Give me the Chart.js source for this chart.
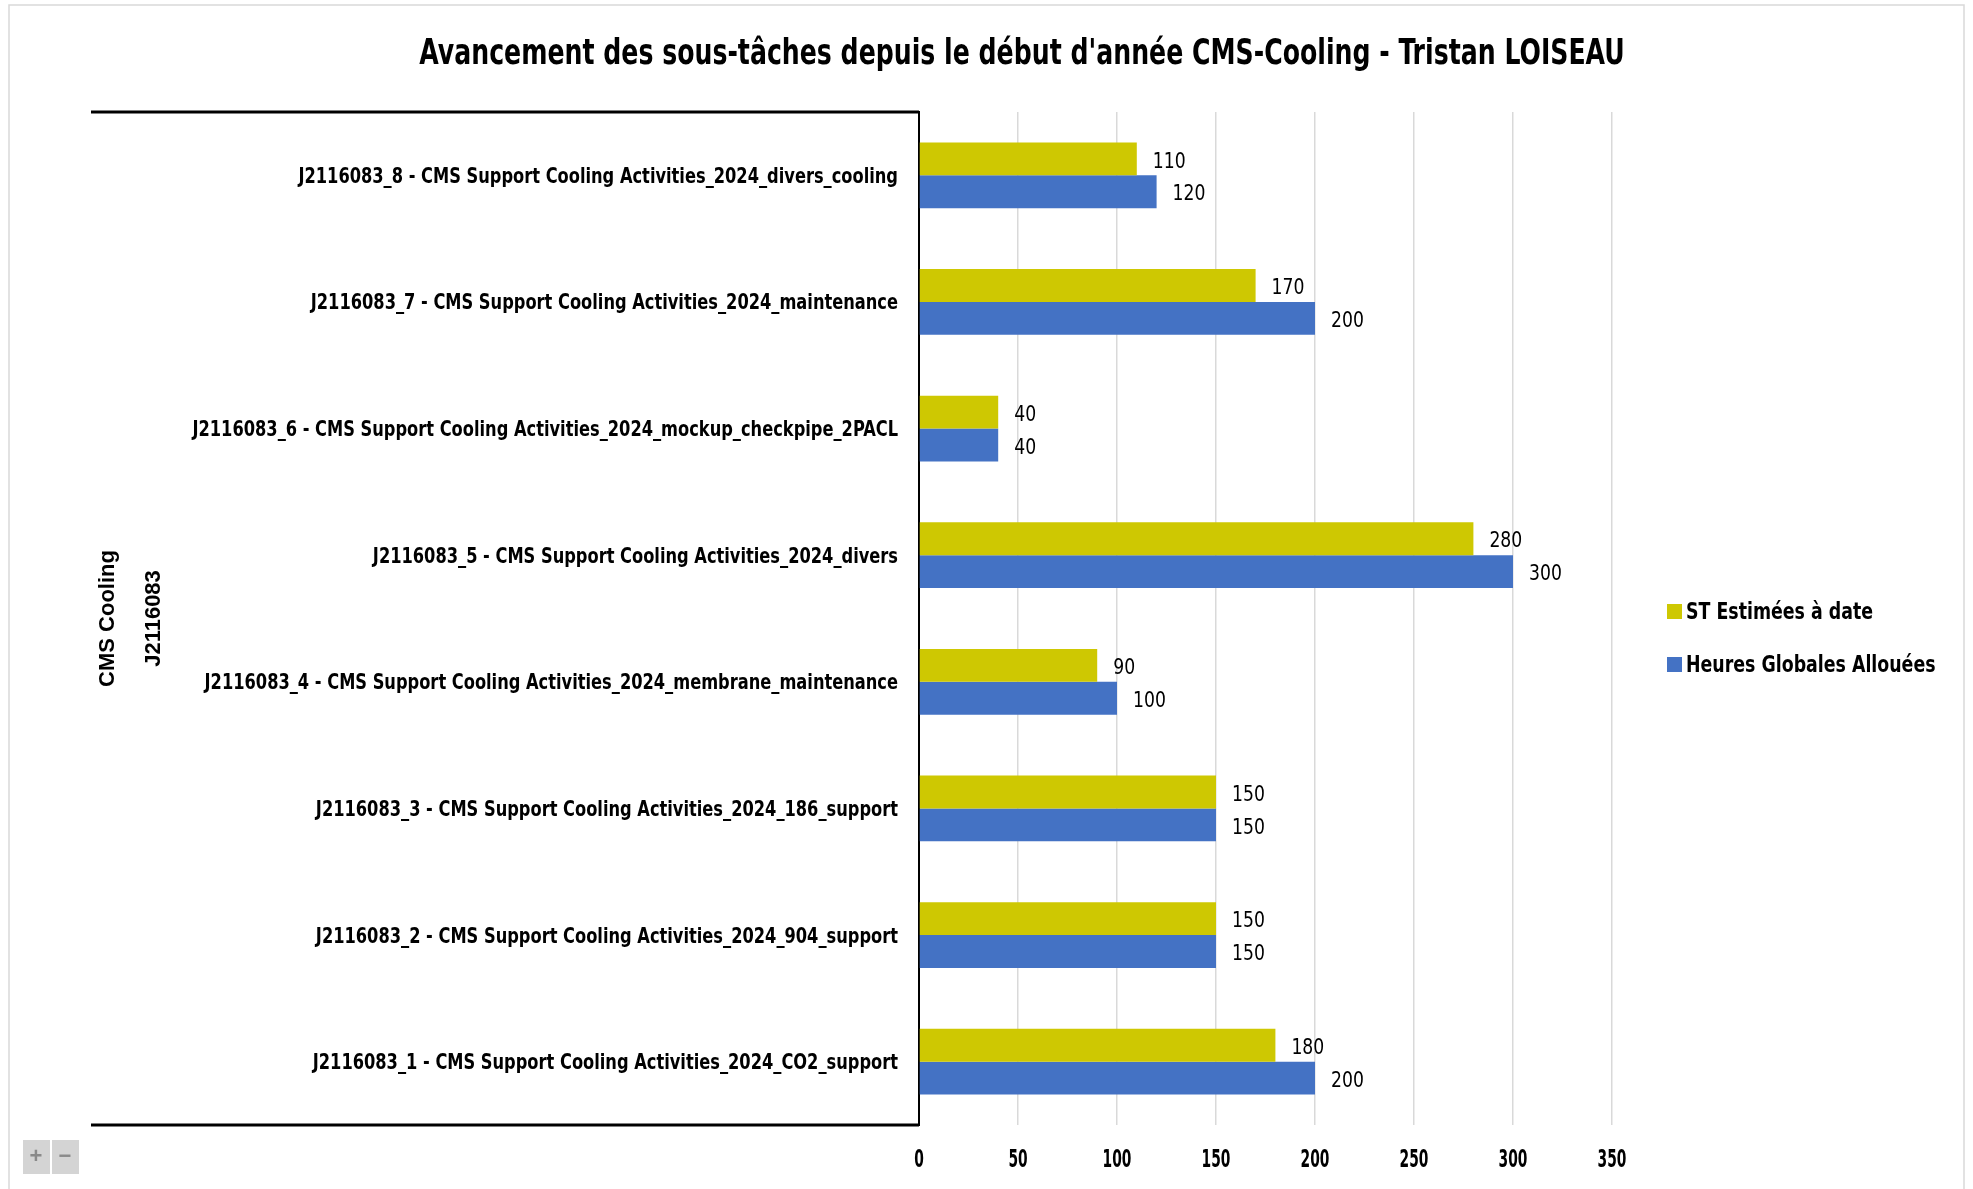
<!DOCTYPE html>
<html>
<head>
<meta charset="utf-8">
<script src="https://cdn.jsdelivr.net/npm/chart.js@4/dist/chart.umd.min.js"></script>
<style>
  html, body { margin: 0; padding: 0; background: #fff; }
  canvas { display: block; }
</style>
</head>
<body>
<canvas id="chart" width="1973" height="1189"></canvas>
<script>
// data
const categories = [
  "J2116083_8 - CMS Support Cooling Activities_2024_divers_cooling",
  "J2116083_7 - CMS Support Cooling Activities_2024_maintenance",
  "J2116083_6 - CMS Support Cooling Activities_2024_mockup_checkpipe_2PACL",
  "J2116083_5 - CMS Support Cooling Activities_2024_divers",
  "J2116083_4 - CMS Support Cooling Activities_2024_membrane_maintenance",
  "J2116083_3 - CMS Support Cooling Activities_2024_186_support",
  "J2116083_2 - CMS Support Cooling Activities_2024_904_support",
  "J2116083_1 - CMS Support Cooling Activities_2024_CO2_support",
];
const stEstimees = [110, 170, 40, 280, 90, 150, 150, 180];
const heuresAllouees = [120, 200, 40, 300, 100, 150, 150, 200];
const groupLabels = ["CMS Cooling", "J2116083"];
const chartTitle = "Avancement des sous-tâches depuis le début d'année CMS-Cooling - Tristan LOISEAU";

const cond = "'DejaVu Sans Condensed', 'Liberation Sans', sans-serif";
const yellow = "#CEC802";
const blue = "#4472C4";

// text squeezed horizontally, to get the narrow Calibri look
function drawText(ctx, text, x, y, font, sx, align) {
  ctx.save();
  ctx.translate(x, y);
  ctx.scale(sx, 1);
  ctx.font = font;
  ctx.fillStyle = "#000";
  ctx.textAlign = align;
  ctx.textBaseline = "middle";
  ctx.fillText(text, 0, 0);
  ctx.restore();
}

// value labels at the end of each bar
const valueLabels = {
  id: "valueLabels",
  afterDatasetsDraw(chart) {
    const ctx = chart.ctx;
    chart.data.datasets.forEach((ds, i) => {
      chart.getDatasetMeta(i).data.forEach((bar, j) => {
        drawText(ctx, String(ds.data[j]), bar.x + 16, bar.y + 3, "22px " + cond, 0.87, "left");
      });
    });
  },
};

// tick labels of both axes, placed with the scales
const axisLabels = {
  id: "axisLabels",
  afterDraw(chart) {
    const ctx = chart.ctx;
    const xs = chart.scales.x;
    const ys = chart.scales.y;
    ys.ticks.forEach((t, i) => {
      drawText(ctx, ys.getLabelForValue(t.value), chart.chartArea.left - 21,
        ys.getPixelForTick(i) + 2, "bold 21px " + cond, 0.86, "right");
    });
    xs.ticks.forEach((t, i) => {
      drawText(ctx, String(t.value), xs.getPixelForTick(i), 1161,
        "bold 24px " + cond, 0.64, "center");
    });
  },
};

// title, outer frame, pivot group labels, legend, field buttons
const decorations = {
  id: "decorations",
  afterDraw(chart) {
    const ctx = chart.ctx;
    const area = chart.chartArea;
    ctx.save();

    // outer frame
    ctx.strokeStyle = "#d9d9d9";
    ctx.lineWidth = 1.5;
    ctx.beginPath();
    ctx.moveTo(9, 1189);
    ctx.lineTo(9, 5);
    ctx.lineTo(1964, 5);
    ctx.lineTo(1964, 1189);
    ctx.stroke();

    // title
    drawText(ctx, chartTitle, 1022, 55, "bold 35px " + cond, 0.8, "center");

    // top / bottom lines of the multi-level axis
    ctx.strokeStyle = "#000";
    ctx.lineWidth = 3;
    ctx.beginPath();
    ctx.moveTo(91, area.top);
    ctx.lineTo(area.left, area.top);
    ctx.moveTo(91, area.bottom);
    ctx.lineTo(area.left, area.bottom);
    ctx.stroke();

    // rotated group labels
    const midY = (area.top + area.bottom) / 2;
    ctx.fillStyle = "#000";
    ctx.textAlign = "center";
    ctx.textBaseline = "middle";
    ctx.font = "bold 22px 'Liberation Sans', Arial, sans-serif";
    [[108, groupLabels[0]], [154, groupLabels[1]]].forEach(([x, txt]) => {
      ctx.save();
      ctx.translate(x, midY);
      ctx.rotate(-Math.PI / 2);
      ctx.fillText(txt, 0, 0);
      ctx.restore();
    });

    // legend
    const legendY = [613, 666];
    chart.data.datasets.forEach((ds, i) => {
      ctx.fillStyle = ds.backgroundColor;
      ctx.fillRect(1667, legendY[i] - 9, 15, 15);
      drawText(ctx, ds.label, 1686, legendY[i], "bold 23px " + cond, 0.84, "left");
    });

    // + / - field buttons
    ctx.fillStyle = "#d4d4d4";
    ctx.fillRect(23, 1140, 27, 34);
    ctx.fillRect(52, 1140, 27, 34);
    ctx.fillStyle = "#8a8a8a";
    ctx.textAlign = "center";
    ctx.font = "bold 22px 'Liberation Sans', sans-serif";
    ctx.fillText("+", 36, 1157);
    ctx.fillText("−", 65, 1157);

    ctx.restore();
  },
};

new Chart(document.getElementById("chart"), {
  type: "bar",
  data: {
    labels: categories,
    datasets: [
      {
        label: "ST Estimées à date",
        data: stEstimees,
        backgroundColor: yellow,
        categoryPercentage: 0.52,
        barPercentage: 1.0,
      },
      {
        label: "Heures Globales Allouées",
        data: heuresAllouees,
        backgroundColor: blue,
        categoryPercentage: 0.52,
        barPercentage: 1.0,
      },
    ],
  },
  options: {
    indexAxis: "y",
    responsive: false,
    animation: false,
    devicePixelRatio: 1,
    layout: { padding: { left: 0, right: 361, top: 112, bottom: 0 } },
    plugins: {
      legend: { display: false },
      title: { display: false },
      tooltip: { enabled: false },
    },
    scales: {
      x: {
        min: 0,
        max: 350,
        afterFit: (scale) => { scale.height = 64; },
        border: { display: false },
        grid: {
          color: (c) => (c.tick && c.tick.value === 0 ? "rgba(0,0,0,0)" : "#d9d9d9"),
          lineWidth: 1.5,
          drawTicks: false,
        },
        ticks: { stepSize: 50, display: false },
      },
      y: {
        afterFit: (scale) => { scale.width = 919; },
        border: { display: true, color: "#000", width: 2 },
        grid: { display: false },
        ticks: { autoSkip: false, display: false },
      },
    },
  },
  plugins: [valueLabels, axisLabels, decorations],
});
</script>
</body>
</html>
